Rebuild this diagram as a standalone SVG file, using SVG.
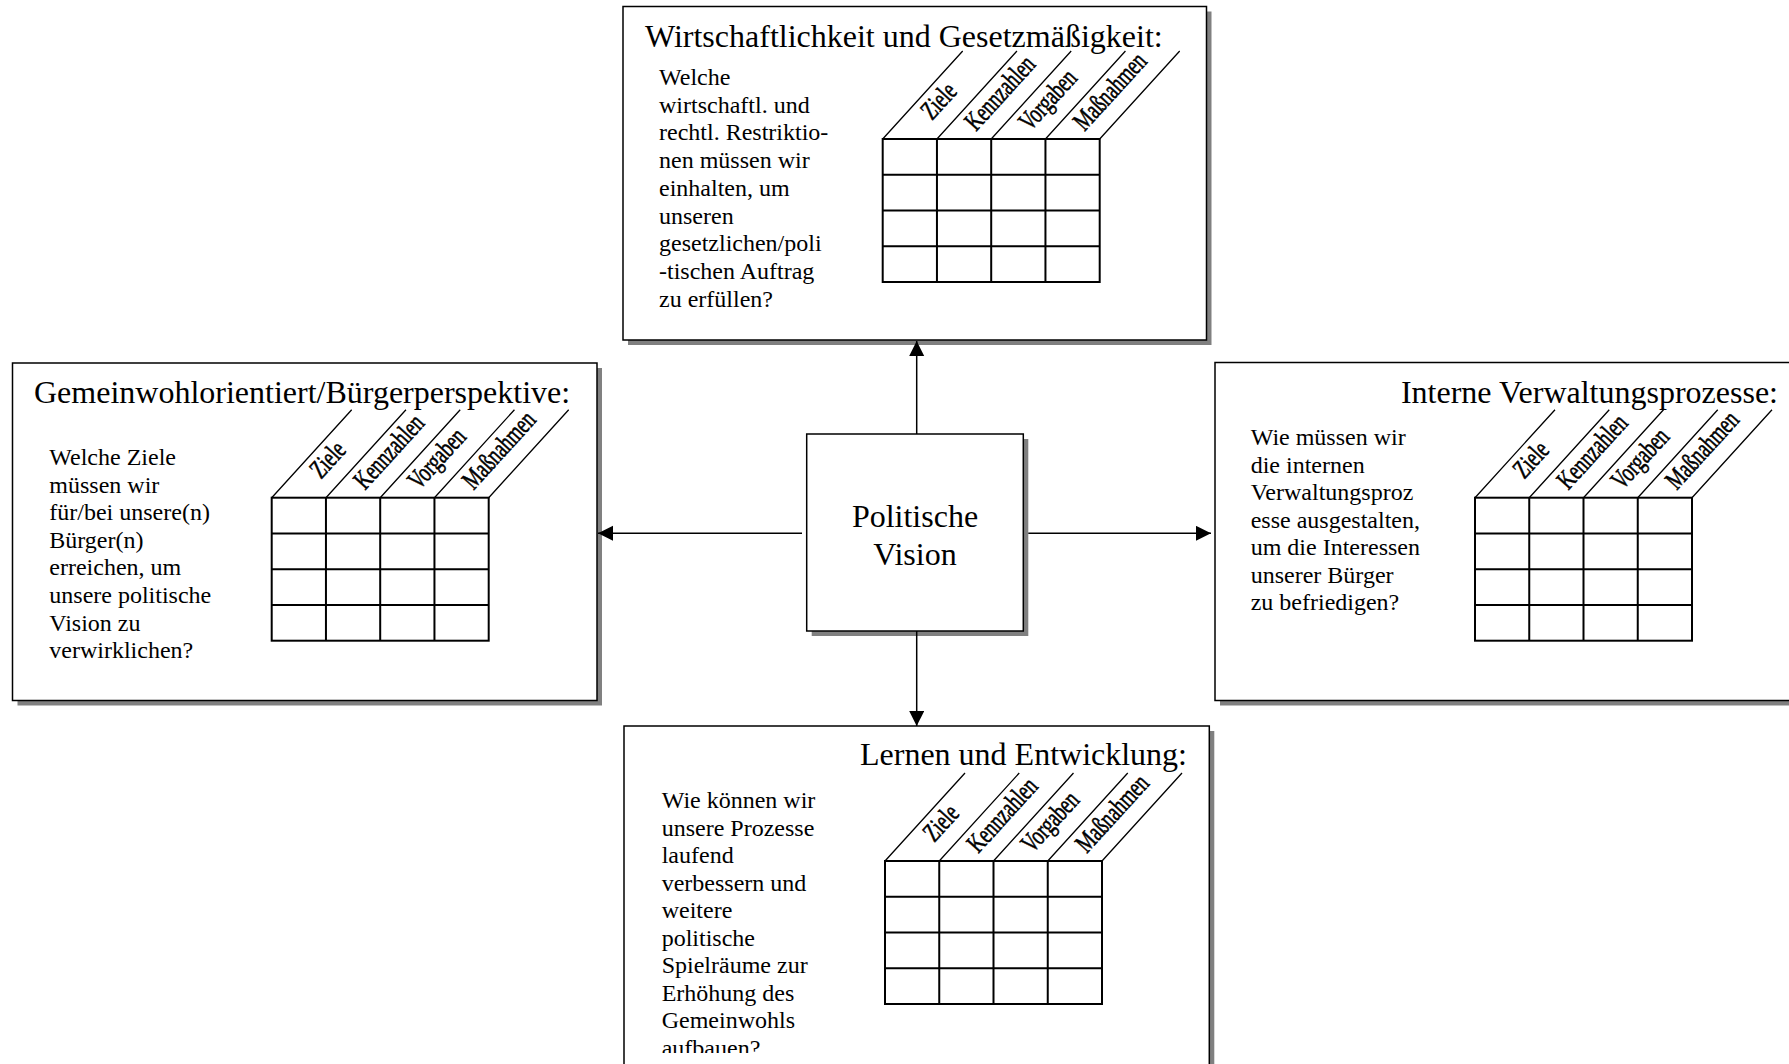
<svg xmlns="http://www.w3.org/2000/svg" width="1789" height="1064" viewBox="0 0 1789 1064">
  <style>
    .box { fill: #fff; stroke: #000; stroke-width: 1.5; }
    .shadow { fill: #808080; }
    .title { font-family: "Liberation Serif", "Times New Roman", serif; font-size: 32px; fill: #000; }
    .body { font-family: "Liberation Serif", "Times New Roman", serif; font-size: 24px; fill: #000; }
    .center { font-family: "Liberation Serif", "Times New Roman", serif; font-size: 32px; fill: #000; text-anchor: middle; }
    .lbl { font-family: "Liberation Serif", "Times New Roman", serif; font-size: 27px; fill: #000; stroke: #000; stroke-width: 0.6; }
    .grid { fill: none; stroke: #000; stroke-width: 2; }
    .slant { stroke: #000; stroke-width: 1.3; }
    .link { stroke: #000; stroke-width: 1.5; fill: none; }
  </style>
  <defs>
    <marker id="arrow" markerUnits="userSpaceOnUse" markerWidth="16" markerHeight="16" refX="15" refY="7.5" orient="auto">
      <path d="M0,0 L15,7.5 L0,15 Z" fill="#000"/>
    </marker>
    <!-- 4x4 matrix with slanted header strips -->
    <g id="matrix">
      <rect class="grid" x="0" y="0" width="217" height="143"/>
      <path class="grid" d="M54.25,0 V143 M108.5,0 V143 M162.75,0 V143 M0,35.75 H217 M0,71.5 H217 M0,107.25 H217"/>
      <path class="slant" d="M0,0 l80,-88 M54.25,0 l80,-88 M108.5,0 l80,-88 M162.75,0 l80,-88 M217,0 l80,-88"/>
    </g>
    <clipPath id="bottomClip">
      <rect x="624" y="726" width="586" height="327"/>
    </clipPath>
  </defs>

  <rect width="1789" height="1064" fill="#fff"/>

  <!-- top: Wirtschaftlichkeit und Gesetzmäßigkeit -->
  <g id="node-wirtschaftlichkeit">
    <rect class="shadow" x="628" y="11.5" width="583.5" height="333.5"/>
    <rect class="box" x="623" y="6.5" width="583.5" height="333.5"/>
    <text class="title" x="645" y="46.5">Wirtschaftlichkeit und Gesetzmäßigkeit:</text>
    <text class="body" x="659" y="85">
      <tspan x="659" dy="0">Welche</tspan>
      <tspan x="659" dy="27.7">wirtschaftl. und</tspan>
      <tspan x="659" dy="27.7">rechtl. Restriktio-</tspan>
      <tspan x="659" dy="27.7">nen müssen wir</tspan>
      <tspan x="659" dy="27.7">einhalten, um</tspan>
      <tspan x="659" dy="27.7">unseren</tspan>
      <tspan x="659" dy="27.7">gesetzlichen/poli</tspan>
      <tspan x="659" dy="27.7">-tischen Auftrag</tspan>
      <tspan x="659" dy="27.7">zu erfüllen?</tspan>
    </text>
    <use href="#matrix" x="882.7" y="139"/>
    <text class="lbl" transform="translate(932,121) rotate(-47.7) scale(0.7,1)">Ziele</text>
    <text class="lbl" transform="translate(976,132) rotate(-47.7) scale(0.7,1)">Kennzahlen</text>
    <text class="lbl" transform="translate(1030,132) rotate(-47.7) scale(0.7,1)">Vorgaben</text>
    <text class="lbl" transform="translate(1084.5,132) rotate(-47.7) scale(0.7,1)">Maßnahmen</text>
  </g>

  <!-- left: Gemeinwohlorientiert/Bürgerperspektive -->
  <g id="node-buergerperspektive">
    <rect class="shadow" x="17.5" y="368" width="584.5" height="337.5"/>
    <rect class="box" x="12.5" y="363" width="584.5" height="337.5"/>
    <text class="title" x="34" y="402.5">Gemeinwohlorientiert/Bürgerperspektive:</text>
    <text class="body" x="49.3" y="465">
      <tspan x="49.3" dy="0">Welche Ziele</tspan>
      <tspan x="49.3" dy="27.6">müssen wir</tspan>
      <tspan x="49.3" dy="27.6">für/bei unsere(n)</tspan>
      <tspan x="49.3" dy="27.6">Bürger(n)</tspan>
      <tspan x="49.3" dy="27.6">erreichen, um</tspan>
      <tspan x="49.3" dy="27.6">unsere politische</tspan>
      <tspan x="49.3" dy="27.6">Vision zu</tspan>
      <tspan x="49.3" dy="27.6">verwirklichen?</tspan>
    </text>
    <use href="#matrix" x="271.7" y="497.7"/>
    <text class="lbl" transform="translate(321,479.7) rotate(-47.7) scale(0.7,1)">Ziele</text>
    <text class="lbl" transform="translate(365,490.7) rotate(-47.7) scale(0.7,1)">Kennzahlen</text>
    <text class="lbl" transform="translate(419,490.7) rotate(-47.7) scale(0.7,1)">Vorgaben</text>
    <text class="lbl" transform="translate(473.5,490.7) rotate(-47.7) scale(0.7,1)">Maßnahmen</text>
  </g>

  <!-- right: Interne Verwaltungsprozesse -->
  <g id="node-verwaltungsprozesse">
    <rect class="shadow" x="1220" y="367.5" width="585" height="338"/>
    <rect class="box" x="1215" y="362.5" width="585" height="338"/>
    <text class="title" x="1778" y="402.5" text-anchor="end">Interne Verwaltungsprozesse:</text>
    <text class="body" x="1250.7" y="445">
      <tspan x="1250.7" dy="0">Wie müssen wir</tspan>
      <tspan x="1250.7" dy="27.5">die internen</tspan>
      <tspan x="1250.7" dy="27.5">Verwaltungsproz</tspan>
      <tspan x="1250.7" dy="27.5">esse ausgestalten,</tspan>
      <tspan x="1250.7" dy="27.5">um die Interessen</tspan>
      <tspan x="1250.7" dy="27.5">unserer Bürger</tspan>
      <tspan x="1250.7" dy="27.5">zu befriedigen?</tspan>
    </text>
    <use href="#matrix" x="1475" y="497.7"/>
    <text class="lbl" transform="translate(1524.3,479.7) rotate(-47.7) scale(0.7,1)">Ziele</text>
    <text class="lbl" transform="translate(1568.3,490.7) rotate(-47.7) scale(0.7,1)">Kennzahlen</text>
    <text class="lbl" transform="translate(1622.3,490.7) rotate(-47.7) scale(0.7,1)">Vorgaben</text>
    <text class="lbl" transform="translate(1676.8,490.7) rotate(-47.7) scale(0.7,1)">Maßnahmen</text>
  </g>

  <!-- bottom: Lernen und Entwicklung -->
  <g id="node-lernen">
    <rect class="shadow" x="629" y="731" width="585.3" height="340"/>
    <rect class="box" x="624" y="726" width="585.3" height="340"/>
    <text class="title" x="1187" y="765" text-anchor="end">Lernen und Entwicklung:</text>
    <text class="body" x="661.7" y="808.3" clip-path="url(#bottomClip)">
      <tspan x="661.7" dy="0">Wie können wir</tspan>
      <tspan x="661.7" dy="27.5">unsere Prozesse</tspan>
      <tspan x="661.7" dy="27.5">laufend</tspan>
      <tspan x="661.7" dy="27.5">verbessern und</tspan>
      <tspan x="661.7" dy="27.5">weitere</tspan>
      <tspan x="661.7" dy="27.5">politische</tspan>
      <tspan x="661.7" dy="27.5">Spielräume zur</tspan>
      <tspan x="661.7" dy="27.5">Erhöhung des</tspan>
      <tspan x="661.7" dy="27.5">Gemeinwohls</tspan>
      <tspan x="661.7" dy="27.5">aufbauen?</tspan>
    </text>
    <use href="#matrix" x="885" y="861"/>
    <text class="lbl" transform="translate(934.3,843) rotate(-47.7) scale(0.7,1)">Ziele</text>
    <text class="lbl" transform="translate(978.3,854) rotate(-47.7) scale(0.7,1)">Kennzahlen</text>
    <text class="lbl" transform="translate(1032.3,854) rotate(-47.7) scale(0.7,1)">Vorgaben</text>
    <text class="lbl" transform="translate(1086.8,854) rotate(-47.7) scale(0.7,1)">Maßnahmen</text>
  </g>

  <!-- centre: Politische Vision -->
  <g id="node-vision">
    <rect class="shadow" x="811.7" y="439" width="216.6" height="197"/>
    <rect class="box" x="806.7" y="434" width="216.6" height="197"/>
    <text class="center" x="915" y="526.7">Politische</text>
    <text class="center" x="915" y="565">Vision</text>
  </g>

  <!-- connectors from the vision to the four perspectives -->
  <g id="connectors">
    <line class="link" x1="916.7" y1="434" x2="916.7" y2="341" marker-end="url(#arrow)"/>
    <line class="link" x1="916.7" y1="631" x2="916.7" y2="726" marker-end="url(#arrow)"/>
    <line class="link" x1="1028.3" y1="533.3" x2="1211" y2="533.3" marker-end="url(#arrow)"/>
    <line class="link" x1="802" y1="533.3" x2="598" y2="533.3" marker-end="url(#arrow)"/>
  </g>
</svg>
